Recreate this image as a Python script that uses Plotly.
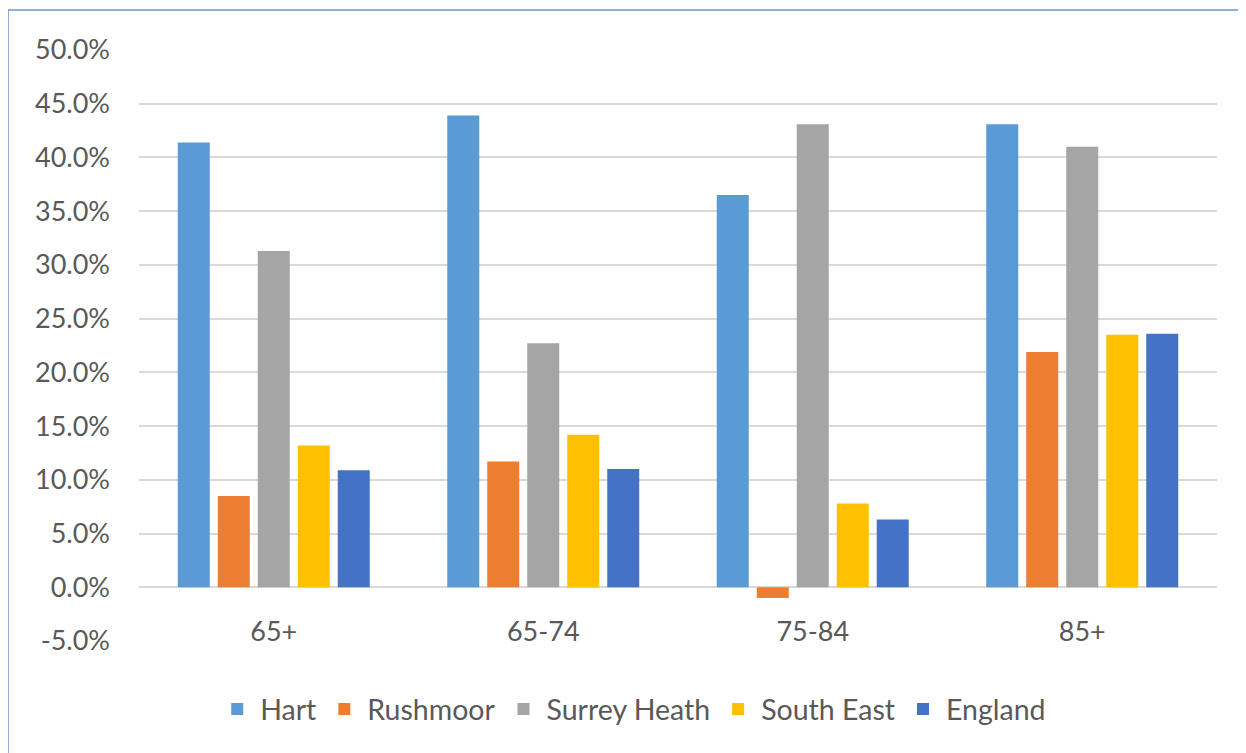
import plotly.graph_objects as go

# age bands on the category axis
age_bands = ["65+", "65-74", "75-84", "85+"]

# percentage change per area
hart = [41.4, 43.9, 36.5, 43.1]
rushmoor = [8.5, 11.7, -1.0, 21.9]
surrey_heath = [31.3, 22.7, 43.1, 41.0]
south_east = [13.2, 14.2, 7.8, 23.5]
england = [10.9, 11.0, 6.3, 23.6]

y_ticks = [-5, 0, 5, 10, 15, 20, 25, 30, 35, 40, 45, 50]
y_tick_labels = [f"{v:.1f}%" for v in y_ticks]

series = [
    ("Hart", hart, "#5B9BD5"),
    ("Rushmoor", rushmoor, "#ED7D31"),
    ("Surrey Heath", surrey_heath, "#A5A5A5"),
    ("South East", south_east, "#FFC000"),
    ("England", england, "#4472C4"),
]

text_col = "#595959"
grid_col = "#D9D9D9"

fig = go.Figure()
for name, vals, col in series:
    fig.add_trace(go.Bar(x=age_bands, y=vals, name=name, marker_color=col,
                         marker_line_width=0))

# page body adds an 8px offset, so margins are shifted to compensate
fig.update_layout(
    width=1246, height=753, autosize=False,
    paper_bgcolor="white", plot_bgcolor="white",
    margin=dict(l=131, r=37, t=42, b=120),
    barmode="group", bargap=0.258, bargroupgap=0.2,
    font=dict(family="Lato, Open Sans, sans-serif", size=27, color=text_col),
    legend=dict(orientation="h", x=0.458, xanchor="center", y=-0.116,
                yanchor="middle", font=dict(size=28.5, color=text_col),
                itemwidth=36, traceorder="normal"),
    showlegend=True,
)

fig.update_yaxes(
    range=[-5, 50], tickvals=y_ticks, ticktext=y_tick_labels,
    showgrid=True, gridcolor=grid_col, gridwidth=2,
    zeroline=True, zerolinecolor=grid_col, zerolinewidth=2,
    showline=False, ticks="", ticklabelstandoff=28,
)
fig.update_xaxes(
    anchor="free", position=5 / 55, showline=False, ticks="",
    showgrid=False, ticklabelstandoff=26,
)

# outer chart border
fig.add_shape(type="rect", xref="paper", yref="paper",
              x0=-0.1215, x1=1.2, y0=-0.4, y1=1.0677,
              line=dict(color="#6C97CF", width=1.5), layer="below")

fig.write_html("out.html")
